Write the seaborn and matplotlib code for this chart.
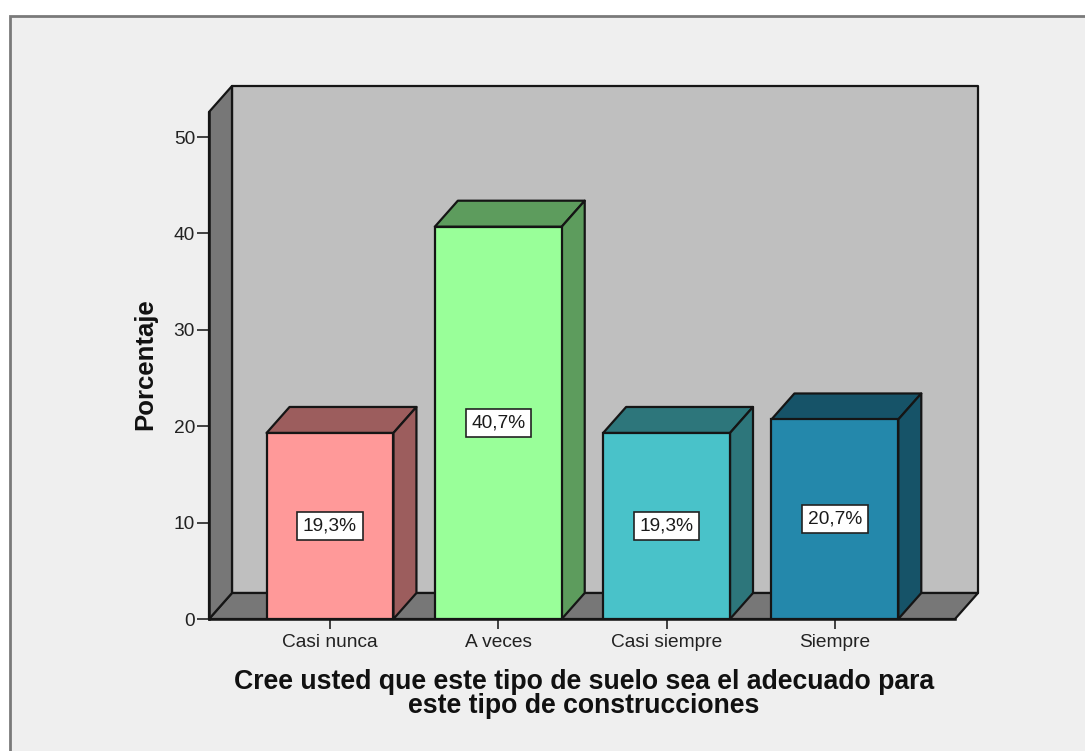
import matplotlib
matplotlib.use("Agg")
import matplotlib.pyplot as plt
from matplotlib.patches import Polygon, Rectangle
import numpy as np
import pandas as pd
import seaborn as sns

categories = ["Casi nunca", "A veces", "Casi siempre", "Siempre"]
percentages = [19.3, 40.7, 19.3, 20.7]
value_labels = ["19,3%", "40,7%", "19,3%", "20,7%"]
bar_colors = ["#FF9999", "#99FF99", "#49C2C9", "#2488AB"]
y_ticks = [0, 10, 20, 30, 40, 50]
x_title = "Cree usted que este tipo de suelo sea el adecuado para\neste tipo de construcciones"
y_title = "Porcentaje"

W, H = 1085, 751
FONT = "Liberation Sans"
EDGE = "#151515"
SHADE = 0.61

sns.set_theme(style="white")
plt.rcParams["font.family"] = FONT

fig = plt.figure(figsize=(W / 100, H / 100), dpi=100, facecolor="white")
# Chart panel: its right and bottom borders run off the edge of the figure
fig.add_artist(Rectangle((10 / W, -0.05), 1.05, 1.05 - 16 / H, transform=fig.transFigure,
                         facecolor="#EFEFEF", edgecolor="#7A7A7A", linewidth=2.0, zorder=-1))

# Front plane of the box: x 209..955 px, baseline at 619 px, top at 112 px
ax = fig.add_axes([209 / W, (H - 619) / H, (955 - 209) / W, (619 - 112) / H])
ax.patch.set_alpha(0)

frame = pd.DataFrame({"categoria": categories, "porcentaje": percentages})
sns.barplot(data=frame, x="categoria", y="porcentaje", hue="categoria", palette=bar_colors,
            width=0.754, legend=False, saturation=1, ax=ax, edgecolor=EDGE, linewidth=1.6, zorder=5)

ymax = 52.6
ax.set_ylim(0, ymax)
ax.set_xlim(-0.719, 3.714)
x0, x1 = ax.get_xlim()

# Receding depth of the box, expressed in data units
dx = 23 / 746 * (x1 - x0)
dy = 26 / 507 * ymax

wall = dict(edgecolor=EDGE, linewidth=1.6, clip_on=False, joinstyle="round")
ax.add_patch(Polygon([(x0 + dx, dy), (x1 + dx, dy), (x1 + dx, ymax + dy), (x0 + dx, ymax + dy)],
                     facecolor="#BFBFBF", zorder=1, **wall))
ax.add_patch(Polygon([(x0, 0), (x1, 0), (x1 + dx, dy), (x0 + dx, dy)],
                     facecolor="#777777", zorder=2, **wall))
ax.add_patch(Polygon([(x0, 0), (x0 + dx, dy), (x0 + dx, ymax + dy), (x0, ymax)],
                     facecolor="#777777", zorder=2, **wall))

# Top and side faces of every bar, derived from the bar drawn by seaborn
bars = [p for p in ax.patches if p.get_zorder() == 5]
for patch, color, label, value in zip(bars, bar_colors, value_labels, percentages):
    left, width = patch.get_x(), patch.get_width()
    right = left + width
    dark = tuple(np.array(matplotlib.colors.to_rgb(color)) * SHADE)
    ax.add_patch(Polygon([(left, value), (right, value), (right + dx, value + dy), (left + dx, value + dy)],
                         facecolor=dark, zorder=4, **wall))
    ax.add_patch(Polygon([(right, 0), (right + dx, dy), (right + dx, value + dy), (right, value)],
                         facecolor=dark, zorder=4, **wall))
    ax.text(left + width / 2, value / 2, label, ha="center", va="center", fontsize=13.8, color="#1A1A1A", zorder=7,
            bbox=dict(boxstyle="square,pad=0.29", facecolor="white", edgecolor="#222222", linewidth=1.2))

sns.despine(ax=ax, top=True, right=True)
for side in ("left", "bottom"):
    ax.spines[side].set_color(EDGE)
    ax.spines[side].set_linewidth(1.8)
    ax.spines[side].set_zorder(6)

ax.set_yticks(y_ticks)
ax.tick_params(axis="x", length=7.5, width=1.2, color="#222222", labelcolor="#222222",
               labelsize=13.8, bottom=True, pad=3)
ax.tick_params(axis="y", length=8.6, width=1.2, color="#222222", labelcolor="#222222",
               labelsize=13.8, left=True, pad=1.5)
ax.set_xlabel("")
ax.set_ylabel("")

fig.text(145 / W, 1 - 364 / H, y_title, rotation=90, ha="center", va="center",
         fontsize=18.5, fontweight="bold", color="#111111")
fig.text(584 / W, 1 - 694 / H, x_title, ha="center", va="center", linespacing=0.92,
         fontsize=19.2, fontweight="bold", color="#111111")

fig.savefig("out.png", dpi=100, facecolor="white")
